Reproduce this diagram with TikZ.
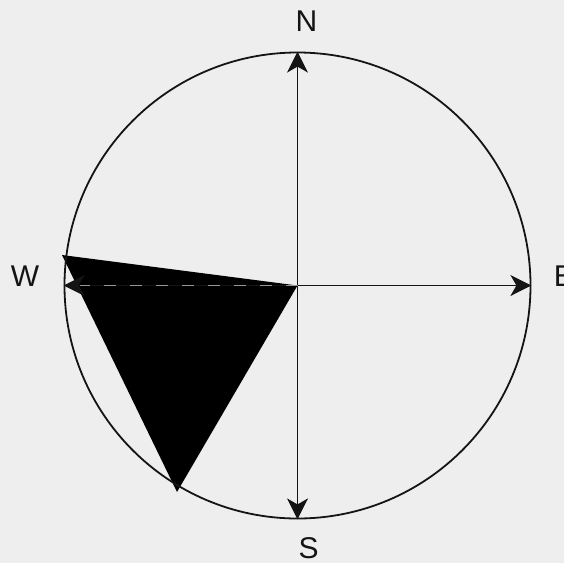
\documentclass[tikz,border=0pt]{standalone}
\usepackage{fontspec}
\setmainfont{Liberation Sans}
\usetikzlibrary{arrows.meta}
\definecolor{bg}{RGB}{238,238,238}
\definecolor{ink}{RGB}{20,20,20}
\definecolor{dashc}{RGB}{150,150,150}
\begin{document}
\begin{tikzpicture}[x=1pt,y=-1pt,line width=1.6pt,
  arr/.style={draw=ink,-{Stealth[length=21pt,width=21pt,inset=6pt]}},
  lbl/.style={font=\fontsize{30}{30}\selectfont,inner sep=0pt,text=ink}]
\fill[bg] (0,0) rectangle (564,563);
\useasboundingbox (0,0) rectangle (564,563);
\coordinate (O) at (297.5,285.5);
\coordinate (A) at (62,255);
\coordinate (B) at (177,492);
\fill[black] (A) -- (O) -- (B) -- cycle;
\node[circle,draw=ink,line width=1.8pt,minimum size=466pt,inner sep=0pt] (C) at (O) {};
\draw[arr] (O) -- (C.north);
\draw[arr] (O) -- (C.south);
\draw[arr] (O) -- (C.east);
\draw[arr] (O) -- (C.west);
\coordinate (Wd) at (80,285.5);
\draw[dashc,line width=1.3pt,dash pattern=on 12pt off 14pt] (O) -- (Wd);
\node[lbl] (N) at (306.5,21) {N};
\node[lbl] (S) at (308.5,548) {S};
\node[lbl] (W) at (25,276) {W};
\node[lbl,anchor=west] (E) at (553,276) {E};
\end{tikzpicture}
\end{document}
